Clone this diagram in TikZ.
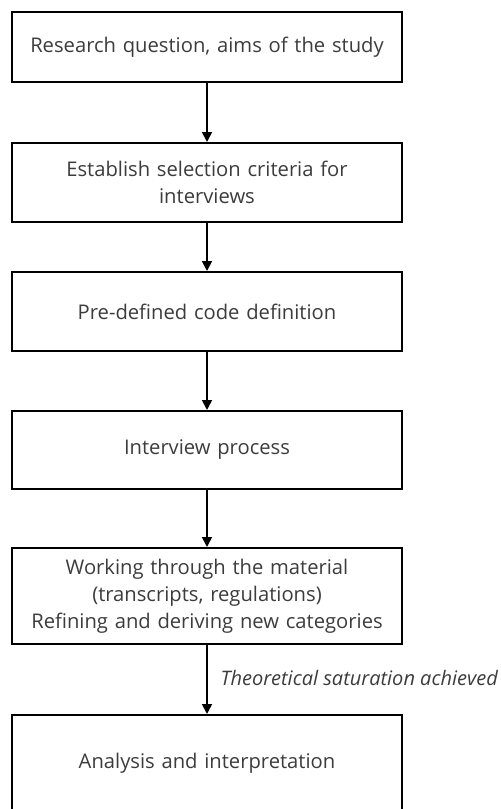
\documentclass[tikz,border=0pt]{standalone}
\usepackage{fontspec}
\setmainfont{Open Sans}
\usetikzlibrary{arrows.meta}
\definecolor{txtgray}{RGB}{60,60,60}
\tikzstyle{stage} = [rectangle, draw=black, line width=1pt, minimum width=194.75pt, text width=185pt, align=center, font=\fontsize{10.1}{13.5}\selectfont, text=txtgray]
\tikzstyle{arrow} = [line width=0.9pt, -{Triangle[length=5pt,width=5pt]}]

\begin{document}
\begin{tikzpicture}[x=0.5pt,y=-0.5pt]
    \useasboundingbox (0,0) rectangle (501,809);
    \clip (0,0) rectangle (501,809);

    \node[stage, minimum height=35pt] (aims) at (207,47) {Research question, aims of the study};
    \node[stage, minimum height=39.5pt] (criteria) at (207,182.5) {Establish selection criteria for\\interviews};
    \node[stage, minimum height=39.5pt] (codes) at (207,311.5) {Pre-defined code definition};
    \node[stage, minimum height=39pt] (interview) at (207,450) {Interview process};
    \node[stage, minimum height=48pt] (material) at (207,596) {Working through the material\\(transcripts, regulations)\\Refining and deriving new categories};
    \node[stage, minimum height=48pt] (analysis) at (207,763) {Analysis and interpretation};

    \draw[arrow] (aims) -- (criteria);
    \draw[arrow] (criteria) -- (codes);
    \draw[arrow] (codes) -- (interview);
    \draw[arrow] (interview) -- (material);
    \draw[arrow] (material) -- (analysis)
        node[midway, right, xshift=3pt, yshift=1pt, text=txtgray, font=\fontsize{10}{12}\selectfont\itshape] (saturation) {Theoretical saturation achieved};
\end{tikzpicture}
\end{document}
